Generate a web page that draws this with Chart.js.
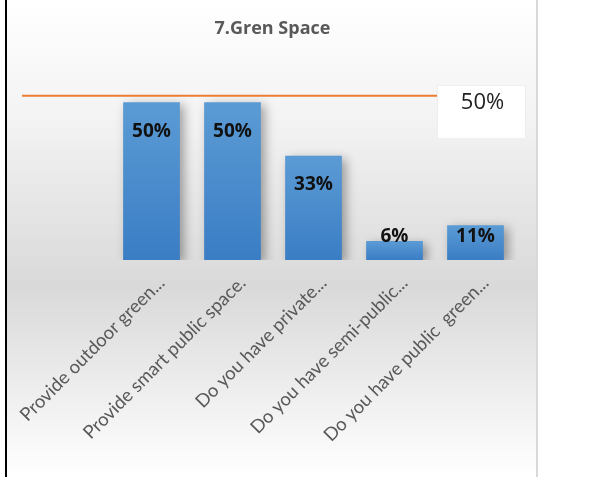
<!DOCTYPE html>
<html>
<head>
<meta charset="utf-8">
<script src="https://cdn.jsdelivr.net/npm/chart.js@4/dist/chart.umd.min.js"></script>
<style>
  html, body { margin: 0; padding: 0; background: #fff; }
  #wrap { position: absolute; left: 5px; top: 0; border-left: 2px solid #000; width: 531px; height: 477px; }
  canvas { display: block; }
</style>
</head>
<body>
<div id="wrap"><canvas id="greenChart" width="531" height="477"></canvas></div>
<script>
// categorias y valores (porcentaje)
var categories = [
  'Provide outdoor green...',
  'Provide smart public space.',
  'Do you have private...',
  'Do you have semi-public...',
  'Do you have public  green...'
];
var percentValues = [50, 50, 33, 6, 11];
// linea naranja de referencia
var targetValue = 52;
var targetText = '50%';

// fondo degradado del cuadro
var bgPlugin = {
  id: 'bgPlugin',
  beforeDraw: function (chart) {
    var c = chart.ctx, w = chart.width, h = chart.height;
    var g = c.createLinearGradient(0, 0, 0, h);
    g.addColorStop(0, '#ffffff');
    g.addColorStop(0.25, '#f3f3f3');
    g.addColorStop(0.6, '#d9d9d9');
    g.addColorStop(1, '#ffffff');
    c.save();
    c.fillStyle = g;
    c.fillRect(0, 0, w, h);
    c.fillStyle = '#d9d9d9';
    c.fillRect(w - 2, 0, 2, h);
    c.restore();
  }
};

// sombra de las barras
var shadowPlugin = {
  id: 'shadowPlugin',
  beforeDatasetDraw: function (chart) {
    var c = chart.ctx;
    c.save();
    c.shadowColor = 'rgba(0,0,0,0.35)';
    c.shadowBlur = 10;
    c.shadowOffsetX = 4;
    c.shadowOffsetY = 3;
  },
  afterDatasetDraw: function (chart) {
    chart.ctx.restore();
  }
};

// etiquetas de valor dentro de las barras + linea y cuadro del 50%
var labelPlugin = {
  id: 'labelPlugin',
  afterDatasetsDraw: function (chart) {
    var c = chart.ctx;
    var meta = chart.getDatasetMeta(0);
    var yScale = chart.scales.y;
    var base = yScale.getPixelForValue(0);
    c.save();
    c.font = 'bold 19px "Open Sans"';
    c.fillStyle = '#111';
    c.textAlign = 'center';
    c.textBaseline = 'middle';
    meta.data.forEach(function (bar, i) {
      var y = Math.min(bar.y + 29, base - 23);
      c.fillText(percentValues[i] + '%', bar.x, y);
    });

    var ly = yScale.getPixelForValue(targetValue);
    var area = chart.chartArea;
    var boxX = area.right - 79, boxW = 89;
    c.strokeStyle = '#ed7d31';
    c.lineWidth = 2;
    c.beginPath();
    c.moveTo(15, ly);
    c.lineTo(boxX, ly);
    c.stroke();

    c.fillStyle = '#ffffff';
    c.fillRect(boxX, ly - 11, boxW, 54);
    c.strokeStyle = '#eeeeee';
    c.lineWidth = 1;
    c.strokeRect(boxX + 0.5, ly - 10.5, boxW - 1, 53);
    c.fillStyle = '#222';
    c.font = '22px "Open Sans"';
    c.fillText(targetText, boxX + boxW / 2 + 1, ly + 7);
    c.restore();
  }
};

var ctx = document.getElementById('greenChart').getContext('2d');

var greenChart = new Chart(ctx, {
  type: 'bar',
  data: {
    labels: categories,
    datasets: [{
      data: percentValues,
      backgroundColor: function (context) {
        var chart = context.chart;
        if (!chart.chartArea) return '#4a8bcf';
        var yScale = chart.scales.y;
        var top = yScale.getPixelForValue(context.raw || 0);
        var bottom = yScale.getPixelForValue(0);
        var g = chart.ctx.createLinearGradient(0, top, 0, bottom);
        g.addColorStop(0, '#5b9bd5');
        g.addColorStop(1, '#3a7dc4');
        return g;
      },
      borderWidth: 0,
      categoryPercentage: 1,
      barPercentage: 0.7
    }]
  },
  options: {
    responsive: false,
    animation: false,
    layout: { padding: 0 },
    plugins: {
      legend: { display: false },
      tooltip: { enabled: false },
      title: {
        display: true,
        text: '7.Gren Space',
        color: '#595959',
        font: { family: 'Open Sans', size: 18, weight: 'bold' },
        padding: { top: 18, bottom: 31 }
      }
    },
    scales: {
      x: {
        grid: { display: false },
        border: { display: false },
        ticks: {
          color: '#595959',
          font: { family: 'Lato', size: 18.5 },
          minRotation: 45,
          maxRotation: 45,
          autoSkip: false,
          padding: 4,
          labelOffset: 10
        },
        afterFit: function (s) {
          // area del grafico fija como en la imagen
          s.height = 217;
          s.paddingLeft = 104;
          s.paddingRight = 22;
        }
      },
      y: {
        display: false,
        min: 0,
        max: 60
      }
    }
  },
  plugins: [bgPlugin, shadowPlugin, labelPlugin]
});
</script>
</body>
</html>
